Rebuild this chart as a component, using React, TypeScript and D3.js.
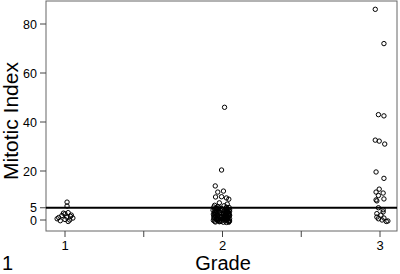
import React from "react";
import * as d3 from "d3";

const yTicks = [0, 5, 20, 40, 60, 80];
const xTicks = [1, 1.5, 2, 2.5, 3];
const xTickLabels = ["1", "", "2", "", "3"];
const cutoff = 5;

// grade 1 : values and horizontal jitter (grade units)
const g1Values = [7.3, 5.7, 3.0, 2.5, 2.0, 1.8, 1.5, 1.2, 1.0, 0.8, 0.5, 0.2, 0.0, -0.3, -0.6, 2.8];
const g1Jitter = [0.013, 0.013, 0.02, 0.0, 0.04, -0.02, 0.035, 0.01, -0.04, 0.05, -0.05, 0.0, 0.03, -0.03, 0.02, -0.01];

// grade 2
const g2Values = [
  46, 20.4, 13.9, 11.4, 11.8, 9.4, 9.5, 9.0, 8.5, 7.0, 6.5, 6.0, 5.8,
  5.3, 5.1, 4.9, 4.8, 4.6, 4.3, 4.1, 4.0, 3.8, 3.6, 3.4, 3.3, 3.1, 2.9,
  2.8, 2.6, 2.4, 2.2, 2.1, 1.9, 1.8, 1.6, 1.4, 1.3, 1.1, 0.9, 0.8, 0.6,
  0.5, 0.3, 0.2, 0.0, -0.1, -0.3, -0.4, -0.6, -0.8, -0.9, -1.0, 2.5, 3.9,
  1.0, 0.1, 4.5, 1.7, -0.5, 3.0, 2.0, 0.7, 5.5, -0.2,
  5.2, 4.7, 4.2, 3.7, 3.2, 2.7, 2.3, 1.5, 1.2, 0.4, -0.7, -0.9, 3.5,
  2.9, 1.9, 0.9, 0.2, -0.4, 4.4, 3.0, 2.1, 1.4, 0.6, -0.2, 5.0, 4.0,
  2.6, 1.6, 0.8, -0.6, 3.4, 1.1,
];
const g2Jitter = [
  0.013, -0.006, -0.046, -0.03, 0.006, -0.044, -0.006, 0.025, 0.04, -0.02, 0.03, -0.05, 0.01,
  -0.055, 0.042, -0.02, 0.02, -0.04, 0.0, 0.035, -0.06, -0.01, 0.045, -0.035, 0.015, -0.05, 0.03,
  -0.015, 0.04, -0.058, 0.005, 0.025, -0.03, 0.044, -0.045, 0.012, -0.01, 0.035, -0.055, 0.02, -0.025,
  0.045, -0.04, 0.0, 0.03, -0.058, 0.015, -0.02, 0.04, -0.045, 0.005, 0.025, -0.035, -0.05,
  0.01, -0.015, -0.03, -0.055, -0.05, 0.04, 0.045, 0.02, -0.03, 0.042,
  0.025, -0.008, 0.045, 0.01, 0.03, 0.02, -0.05, 0.005, -0.03, 0.02, -0.02, 0.04, -0.025,
  -0.045, 0.015, 0.03, -0.035, 0.045, -0.045, -0.02, 0.038, -0.04, 0.01, -0.03, -0.04, 0.025,
  0.005, 0.025, -0.01, -0.01, 0.03, -0.05,
];

// grade 3
const g3Values = [
  86, 72, 43, 42.5, 32.6, 32.2, 31, 19.6, 17, 12.6, 11.4, 11, 10, 8.6, 8.2, 7.8,
  5.0, 4.2, 3.3, 2.0, 1.2, 0.8, 0.0, -0.4, 0.5, -0.6, 2.6,
];
const g3Jitter = [
  -0.03, 0.025, -0.01, 0.025, -0.03, -0.005, 0.03, -0.025, 0.025, -0.005, -0.025, 0.02, -0.01, 0.025, -0.025, -0.02,
  -0.01, 0.02, 0.02, 0.006, -0.02, 0.025, 0.013, 0.05, -0.01, 0.04, -0.02,
];

const W = 400;
const H = 274;
const left = 46;
const right = 397;
const top = 1;
const bottom = 231;
const font = "'Liberation Sans', Arial, sans-serif";

export default function App() {
  const x = d3.scaleLinear().domain([1, 3]).range([65, 380]);
  const y = d3.scaleLinear().domain([0, 80]).range([220, 24]);

  const pts: { gx: number; v: number }[] = [];
  g1Values.forEach((v, i) => pts.push({ gx: 1 + g1Jitter[i], v }));
  g2Values.forEach((v, i) => pts.push({ gx: 2 + g2Jitter[i], v }));
  g3Values.forEach((v, i) => pts.push({ gx: 3 + g3Jitter[i], v }));

  return (
    <svg width={W} height={H} style={{ position: "absolute", left: 0, top: 0, background: "#fff" }}>
      <rect x={left} y={top} width={right - left} height={bottom - top} fill="none" stroke="#666" strokeWidth={1} />
      {yTicks.map((t) => (
        <g key={"y" + t}>
          <line x1={left - 6} x2={left} y1={y(t)} y2={y(t)} stroke="#444" />
          <text x={left - 9} y={y(t)} dy="0.36em" textAnchor="end" fontFamily={font} fontSize={12.5} fill="#000">
            {t}
          </text>
        </g>
      ))}
      {xTicks.map((t, i) => (
        <g key={"x" + t}>
          <line x1={x(t)} x2={x(t)} y1={bottom} y2={bottom + 6} stroke="#444" />
          {xTickLabels[i] && (
            <text x={x(t)} y={250} textAnchor="middle" fontFamily={font} fontSize={13} fill="#000">
              {xTickLabels[i]}
            </text>
          )}
        </g>
      ))}
      <line x1={left} x2={right} y1={y(cutoff)} y2={y(cutoff)} stroke="#000" strokeWidth={2} />
      {pts.map((p, i) => (
        <circle key={i} cx={x(p.gx)} cy={y(p.v)} r={2.2} fill="none" stroke="#000" strokeWidth={1} />
      ))}
      <text
        transform={`translate(18,121) rotate(-90)`}
        textAnchor="middle"
        fontFamily={font}
        fontSize={21}
        fill="#000"
      >
        Mitotic Index
      </text>
      <text x={223} y={270} textAnchor="middle" fontFamily={font} fontSize={20} fill="#000">
        Grade
      </text>
      <text x={2} y={270} fontFamily={font} fontSize={20} fill="#000">
        1
      </text>
    </svg>
  );
}
